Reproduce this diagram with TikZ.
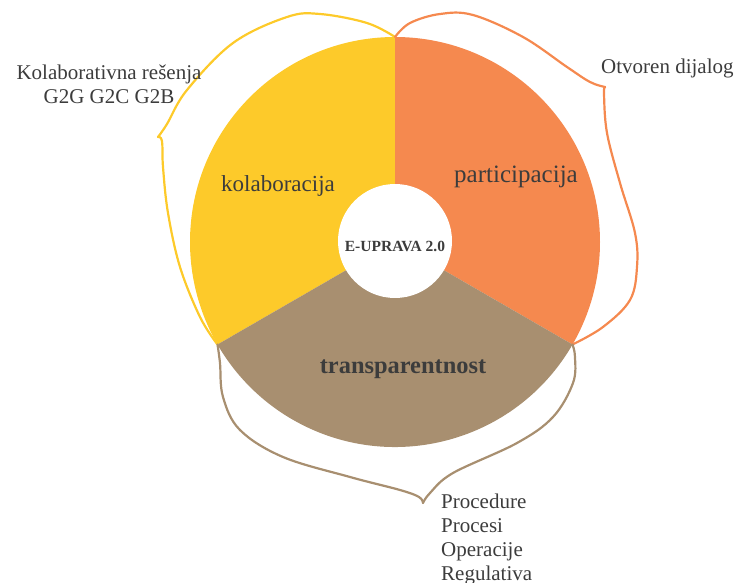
\documentclass[tikz,border=0pt]{standalone}
\usepackage{fontspec}
\setmainfont{Liberation Serif}
\definecolor{yel}{RGB}{253,202,42}
\definecolor{ora}{RGB}{245,137,79}
\definecolor{bro}{RGB}{168,143,112}
\definecolor{txt}{RGB}{60,60,60}
\tikzset{
  brace/.style={line width=2.2pt, line join=round, line cap=round},
  outer/.style={text=txt, inner sep=0pt, anchor=base, font=\fontsize{21}{24}\selectfont},
  sectorlbl/.style={text=txt, inner sep=0pt, anchor=base},
}
\begin{document}
\begin{tikzpicture}[x=1pt,y=-1pt]
\useasboundingbox (0,0) rectangle (740,583);
\coordinate (C) at (395,242);
% sectors
\fill[yel] (C) -- +(-90:205) arc[start angle=-90, end angle=-210, radius=205] -- cycle;
\fill[ora] (C) -- +(-90:205) arc[start angle=-90, end angle=30, radius=205] -- cycle;
\fill[bro] (C) -- +(30:205) arc[start angle=30, end angle=150, radius=205] -- cycle;
% core
\node[circle, fill=white, minimum size=114pt, inner sep=0pt] (core) at (395,241) {};
\node[sectorlbl, font=\bfseries\fontsize{15.5}{18}\selectfont] (coretxt) at (395,252) {E-UPRAVA 2.0};
% braces
\draw[brace, yel] plot[smooth, tension=0.6] coordinates {(395,37) (367,23) (320,14) (287,17) (233,43) (187,90) (167,124) (158,137)};
\draw[brace, yel] plot[smooth, tension=0.6] coordinates {(158,137) (162,141) (163,167) (168,213) (180,267) (200,317) (217.5,344.5)};
\draw[brace, ora] plot[smooth, tension=0.6] coordinates {(395,37) (410,23) (440,14) (473,15) (523,37) (567,67) (590,82) (605,87)};
\draw[brace, ora] plot[smooth, tension=0.6] coordinates {(605,87) (604,94) (607,133) (620,183) (635,233) (637,267) (630,300) (603,327) (572.5,344.5)};
\draw[brace, bro] plot[smooth, tension=0.6] coordinates {(217.5,344.5) (220,363) (223,397) (240,430) (283,457) (350,477) (400,490) (419,497) (423,503)};
\draw[brace, bro] plot[smooth, tension=0.6] coordinates {(423,503) (430,493) (453,473) (517,443) (553,417) (573,383) (575,357) (572.5,344.5)};
% sector labels
\node[sectorlbl, font=\fontsize{23}{26}\selectfont] (kol) at (278,192) {kolaboracija};
\node[sectorlbl, font=\fontsize{25}{28}\selectfont] (par) at (516,183) {participacija};
\node[sectorlbl, font=\bfseries\fontsize{24.4}{28}\selectfont] (tra) at (403,373) {transparentnost};
% outer labels
\node[outer] (kr1) at (109,80) {Kolaborativna rešenja};
\node[outer] (kr2) at (109,104) {G2G G2C G2B};
\node[outer, anchor=base west] (od) at (601,74) {Otvoren dijalog};
\node[outer, anchor=base west] (p1) at (441,508) {Procedure};
\node[outer, anchor=base west] (p2) at (441,532) {Procesi};
\node[outer, anchor=base west] (p3) at (441,556) {Operacije};
\node[outer, anchor=base west] (p4) at (441,580) {Regulativa};
\end{tikzpicture}
\end{document}
